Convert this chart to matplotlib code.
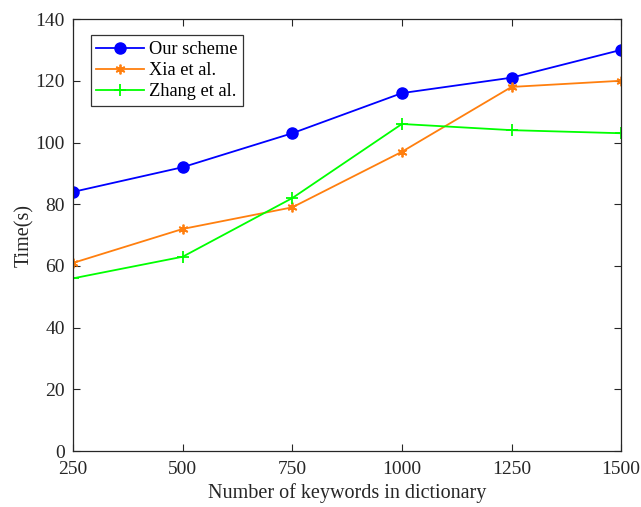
import matplotlib.pyplot as plt
import numpy as np

plt.rcParams['font.family'] = ['Liberation Serif', 'DejaVu Serif']
plt.rcParams['mathtext.fontset'] = 'stix'

keywords = [250, 500, 750, 1000, 1250, 1500]
our_scheme = [84, 92, 103, 116, 121, 130]
xia = [61, 72, 79, 97, 118, 120]
zhang = [56, 63, 82, 106, 104, 103]

fig = plt.figure(figsize=(6.41, 5.07), dpi=100)
ax = fig.add_axes([0.114, 0.110, 0.855, 0.8525])

ax.plot(keywords, our_scheme, color='#0000ff', marker='o', markersize=8,
        linewidth=1.3, label='Our scheme')
ax.plot(keywords, xia, color='#ff7f0e', marker=(6, 2, 0), markersize=7,
        markeredgewidth=1.3, linewidth=1.3, label='Xia et al.')
ax.plot(keywords, zhang, color='#00ff00', marker='+', markersize=9,
        markeredgewidth=1.3, linewidth=1.3, label='Zhang et al.')

ax.set_xlim(250, 1500)
ax.set_ylim(0, 140)
ax.set_xticks(keywords)
ax.set_yticks(np.arange(0, 141, 20))
ax.tick_params(direction='in', labelsize=14, length=5, width=0.8,
               top=True, right=True, colors='#262626')
ax.tick_params(axis='x', pad=7)
ax.tick_params(axis='y', pad=6)
for s in ax.spines.values():
    s.set_linewidth(0.9)
    s.set_color('#262626')

ax.set_xlabel('Number of keywords in dictionary', fontsize=14.5, labelpad=4,
              color='#262626')
ax.set_ylabel('Time(s)', fontsize=14.5, labelpad=1, color='#262626')

leg = ax.legend(loc='upper left', bbox_to_anchor=(0.032, 0.962), fontsize=13.2,
                frameon=True, fancybox=False, edgecolor='black',
                handlelength=2.6, borderpad=0.3, labelspacing=0.22,
                handletextpad=0.3, borderaxespad=0)
leg.get_frame().set_linewidth(0.9)

fig.savefig('out.png', dpi=100)
